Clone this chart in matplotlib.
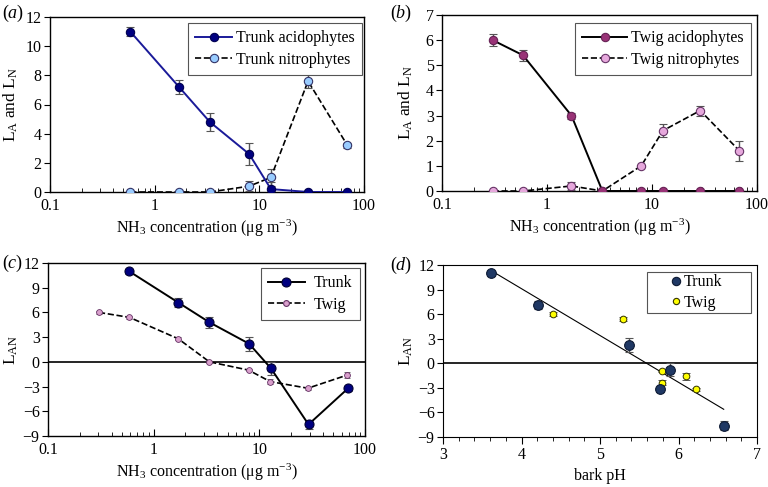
import numpy as np
import matplotlib
matplotlib.use("Agg")
import matplotlib.pyplot as plt
from matplotlib.lines import Line2D
from matplotlib.patches import Rectangle
from matplotlib.ticker import LogLocator, NullFormatter, FixedLocator, MultipleLocator

plt.rcParams['font.family'] = ['Liberation Serif', 'DejaVu Serif']
plt.rcParams['mathtext.fontset'] = 'custom'
plt.rcParams['mathtext.rm'] = 'Liberation Serif'
plt.rcParams['mathtext.it'] = 'Liberation Serif:italic'
FS = 11.5

# ---- data ----
trunk_nh3 = [0.585, 1.71, 3.37, 8.0, 12.9, 29.2, 69.4]
trunk_acido = [11.0, 7.2, 4.8, 2.6, 0.2, 0.0, 0.0]
trunk_acido_err = [0.3, 0.5, 0.65, 0.75, 0.5, 0.0, 0.0]
trunk_nitro = [0.0, 0.0, 0.0, 0.4, 1.0, 7.6, 3.2]
trunk_nitro_err = [0.0, 0.0, 0.0, 0.35, 0.6, 0.5, 0.15]

twig_nh3 = [0.304, 0.59, 1.71, 3.37, 7.9, 12.7, 28.8, 68.0]
twig_acido = [6.0, 5.4, 3.0, 0.0, 0.0, 0.0, 0.0, 0.0]
twig_acido_err = [0.25, 0.22, 0.12, 0.0, 0.0, 0.0, 0.0, 0.0]
twig_nitro = [0.0, 0.0, 0.2, 0.0, 1.0, 2.4, 3.2, 1.6]
twig_nitro_err = [0.0, 0.0, 0.15, 0.0, 0.05, 0.25, 0.2, 0.4]

trunk_lan = [11.0, 7.2, 4.8, 2.2, -0.8, -7.6, -3.2]
trunk_lan_err = [0.3, 0.5, 0.65, 0.85, 0.8, 0.5, 0.3]
twig_lan = [6.0, 5.4, 2.8, 0.0, -1.0, -2.4, -3.2, -1.6]
twig_lan_err = [0.2, 0.15, 0.2, 0.1, 0.1, 0.3, 0.2, 0.4]

ph_trunk = [3.615, 4.213, 5.375, 5.897, 5.77, 6.576]
ph_trunk_lan = [11.0, 7.1, 2.2, -0.8, -3.2, -7.6]
ph_trunk_err = [0.3, 0.5, 0.85, 0.8, 0.3, 0.5]
ph_twig = [4.396, 5.29, 5.795, 5.795, 6.09, 6.228]
ph_twig_lan = [6.0, 5.4, -1.0, -2.4, -1.6, -3.2]
ph_twig_err = [0.25, 0.22, 0.1, 0.3, 0.4, 0.2]

W, H = 768, 487
fig = plt.figure(figsize=(W/100, H/100), dpi=100)

def ax_px(l, r, t, b):
    return fig.add_axes([l/W, 1 - b/H, (r-l)/W, (b-t)/H])

def fpt(x, y):
    return (x/W, 1 - y/H)

ERRC = '#555555'
XLAB = r'NH$_3$ concentration ($\mathregular{\mu}$g m$^{-3}$)'

def style_log(ax):
    ax.set_xscale('log')
    ax.set_xlim(0.1, 100)
    ax.xaxis.set_major_locator(FixedLocator([0.1, 1, 10, 100]))
    ax.set_xticklabels(['0.1', '1', '10', '100'])
    ax.xaxis.set_minor_locator(LogLocator(base=10, subs=np.arange(2, 10)))
    ax.xaxis.set_minor_formatter(NullFormatter())
    ax.tick_params(axis='x', which='major', direction='in', length=5, labelsize=FS, pad=4)
    ax.tick_params(axis='x', which='minor', direction='in', length=3)
    ax.tick_params(axis='y', which='major', direction='out', length=4, labelsize=FS, pad=2)
    for s in ax.spines.values():
        s.set_linewidth(1.0)
    ax.set_xlabel(XLAB, fontsize=FS, labelpad=3)

def leg(ax, handles, right, top, handlelength=2.2, handletextpad=0.25,
        borderpad=0.45, labelspacing=0.35, frameon=True, loc='upper right'):
    l = ax.legend(handles=handles, fontsize=FS, frameon=frameon, fancybox=False, framealpha=1,
                  edgecolor='#555555', borderpad=borderpad, handlelength=handlelength,
                  handletextpad=handletextpad, labelspacing=labelspacing,
                  loc=loc, bbox_to_anchor=fpt(right, top),
                  bbox_transform=fig.transFigure, borderaxespad=0)
    l.get_frame().set_linewidth(0.8)
    return l

def h(ls, color, lw, ms, mfc, mec, label):
    return Line2D([], [], linestyle=ls, color=color, lw=lw, marker='o', ms=ms,
                  mfc=mfc, mec=mec, mew=0.8, label=label)

# ---- (a) ----
axa = ax_px(50, 364, 17, 192)
axa.errorbar(trunk_nh3, trunk_nitro, yerr=trunk_nitro_err, fmt='--o', color='black',
             lw=1.2, ms=6, mfc='#99ccff', mec='#333366', mew=0.8,
             ecolor=ERRC, elinewidth=1, capsize=3, zorder=3)
axa.errorbar(trunk_nh3, trunk_acido, yerr=trunk_acido_err, fmt='-o', color='#1a1a99',
             lw=1.4, ms=6, mfc='#000080', mec='#000050', mew=0.8,
             ecolor=ERRC, elinewidth=1, capsize=3, zorder=4)
style_log(axa)
axa.set_ylim(0, 12)
axa.yaxis.set_major_locator(MultipleLocator(2))
axa.set_ylabel(r'L$_\mathregular{A}$ and L$_\mathregular{N}$', fontsize=FS+1, labelpad=4)
leg(axa, [h('-', '#1a1a99', 1.4, 6, '#000080', '#000050', 'Trunk acidophytes'),
          h('--', 'black', 1.2, 6, '#99ccff', '#333366', 'Trunk nitrophytes')],
    right=362, top=23, handlelength=2.3)
fig.text(2/W, 1 - 13/H, r'($\mathit{a}$)', fontsize=FS+1.5, va='center', ha='left')

# ---- (b) ----
axb = ax_px(442, 757, 15, 191)
axb.errorbar(twig_nh3, twig_nitro, yerr=twig_nitro_err, fmt='--o', color='black',
             lw=1.2, ms=6, mfc='#e6a8dc', mec='#663366', mew=0.8,
             ecolor=ERRC, elinewidth=1, capsize=3, zorder=3)
axb.errorbar(twig_nh3, twig_acido, yerr=twig_acido_err, fmt='-o', color='black',
             lw=1.4, ms=6, mfc='#993377', mec='#662255', mew=0.8,
             ecolor=ERRC, elinewidth=1, capsize=3, zorder=4)
style_log(axb)
axb.set_ylim(0, 7)
axb.yaxis.set_major_locator(MultipleLocator(1))
axb.set_ylabel(r'L$_\mathregular{A}$ and L$_\mathregular{N}$', fontsize=FS+1, labelpad=8)
leg(axb, [h('-', 'black', 1.4, 6, '#993377', '#662255', 'Twig acidophytes'),
          h('--', 'black', 1.2, 6, '#e6a8dc', '#663366', 'Twig nitrophytes')],
    right=751, top=23, handlelength=2.8)
fig.text(390/W, 1 - 13/H, r'($\mathit{b}$)', fontsize=FS+1.5, va='center', ha='left')

# ---- (c) ----
axc = ax_px(48, 365, 263, 436)
axc.axhline(0, color='black', lw=1.2, zorder=1)
axc.errorbar(trunk_nh3, trunk_lan, yerr=trunk_lan_err, fmt='-o', color='black',
             lw=1.4, ms=6.5, mfc='#000080', mec='#000033', mew=0.8,
             ecolor=ERRC, elinewidth=1, capsize=3, zorder=4)
axc.errorbar(twig_nh3, twig_lan, yerr=twig_lan_err, fmt='--o', color='black',
             lw=1.2, ms=4.2, mfc='#d9a0cc', mec='#663366', mew=0.6,
             ecolor=ERRC, elinewidth=1, capsize=2.5, zorder=3)
style_log(axc)
axc.set_ylim(-9, 12)
axc.set_yticks([-9, -6, -3, 0, 3, 6, 9, 12])
axc.set_yticklabels(['\u22129', '\u22126', '\u22123', '0', '3', '6', '9', '12'])
axc.set_ylabel(r'L$_\mathregular{AN}$', fontsize=FS+1, labelpad=2)
leg(axc, [h('-', 'black', 1.4, 6.5, '#000080', '#000033', 'Trunk'),
          h('--', 'black', 1.2, 4.2, '#d9a0cc', '#663366', 'Twig')],
    right=360, top=268, handlelength=2.3, handletextpad=0.6)
fig.text(2/W, 1 - 263/H, r'($\mathit{c}$)', fontsize=FS+1.5, va='center', ha='left')

# ---- (d) ----
axd = ax_px(443, 757, 265, 437)
axd.axhline(0, color='black', lw=1.2, zorder=1)
allx = np.array(ph_trunk + ph_twig)
ally = np.array(ph_trunk_lan + ph_twig_lan)
k, b0 = np.polyfit(allx, ally, 1)
xs = np.array([min(ph_trunk), max(ph_trunk)])
axd.plot(xs, k*xs + b0, color='black', lw=0.8, zorder=2)
axd.errorbar(ph_trunk, ph_trunk_lan, yerr=ph_trunk_err, fmt='o', ms=7,
             mfc='#1f3864', mec='#0d1a33', mew=0.8,
             ecolor=ERRC, elinewidth=1, capsize=3, zorder=4)
axd.errorbar(ph_twig, ph_twig_lan, yerr=ph_twig_err, fmt='o', ms=4.8,
             mfc='#ffff00', mec='#333300', mew=0.7,
             ecolor=ERRC, elinewidth=1, capsize=3, zorder=3)
axd.set_xlim(3, 7)
axd.set_ylim(-9, 12)
axd.xaxis.set_major_locator(MultipleLocator(1))
axd.xaxis.set_minor_locator(MultipleLocator(0.2))
axd.set_yticks([-9, -6, -3, 0, 3, 6, 9, 12])
axd.set_yticklabels(['\u22129', '\u22126', '\u22123', '0', '3', '6', '9', '12'])
axd.tick_params(axis='x', which='major', direction='out', length=5, labelsize=FS, pad=2)
axd.tick_params(axis='x', which='minor', direction='out', length=3)
axd.tick_params(axis='y', which='major', direction='out', length=4, labelsize=FS, pad=2)
axd.set_xlabel('bark pH', fontsize=FS, va='center')
axd.xaxis.set_label_coords(0.5, (437 - 476) / (437 - 265))
axd.set_ylabel(r'L$_\mathregular{AN}$', fontsize=FS+1, labelpad=2)
# legend box (wide padded frame as in the reference)
axd.add_patch(Rectangle(fpt(647, 313), 104/W, 41/H, transform=fig.transFigure,
                        facecolor='white', edgecolor='#555555', lw=0.8, zorder=5,
                        clip_on=False))
ld = leg(axd, [h('none', 'black', 1, 6, '#1f3864', '#0d1a33', 'Trunk'),
               h('none', 'black', 1, 4.5, '#ffff00', '#333300', 'Twig')],
         right=671, top=292.5, handlelength=0.6, handletextpad=0.2,
         borderpad=0.0, labelspacing=0.3, frameon=False, loc='center left')
ld.set_zorder(6)
fig.text(390/W, 1 - 265/H, r'($\mathit{d}$)', fontsize=FS+1.5, va='center', ha='left')

fig.savefig('out.png', dpi=100)
